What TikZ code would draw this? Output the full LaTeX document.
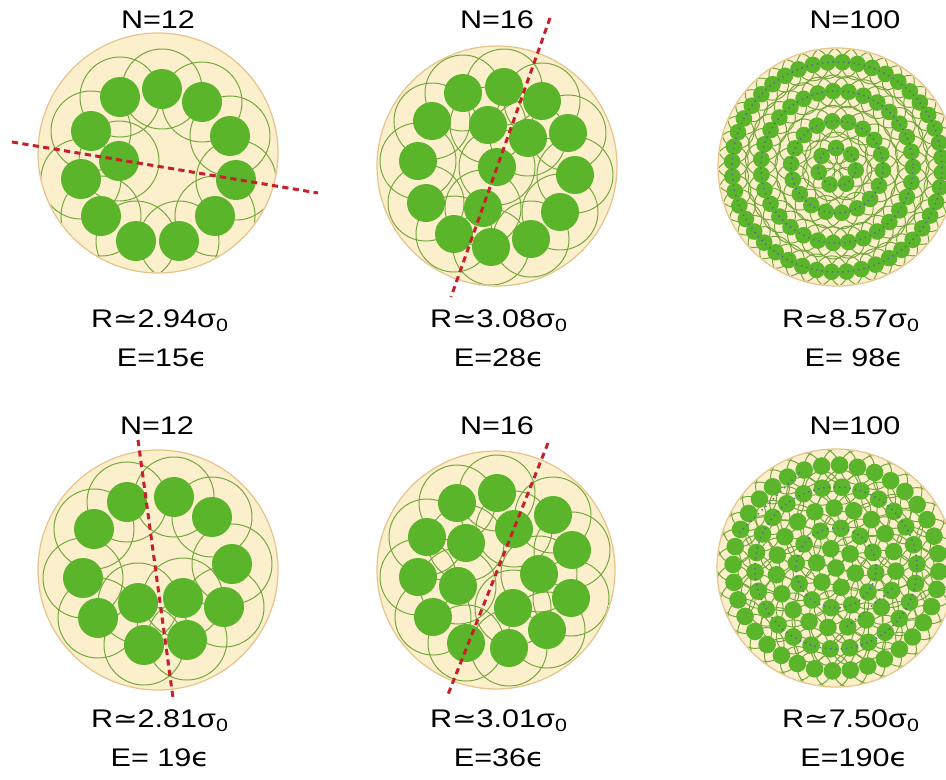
\documentclass[tikz,border=0pt]{standalone}
\usepackage{fontspec}
\setmainfont{Liberation Sans}[FakeStretch=1.2]
\newfontfamily\symbfont{DejaVu Sans}[FakeStretch=1.15]
\definecolor{cbeige}{HTML}{FCEFCB}
\definecolor{ctan}{HTML}{E6C48C}
\definecolor{cgreen}{HTML}{5AB52A}
\definecolor{chalo}{HTML}{72A63C}
\definecolor{cred}{HTML}{C8202A}
\definecolor{cdots}{HTML}{4E6A96}
\tikzset{
  shell/.style={draw=ctan, fill=cbeige, line width=0.7pt},
  bead/.style={fill=cgreen},
  halo/.style={draw=chalo, line width=0.55pt},
  cut/.style={draw=cred, line width=1.7pt, dash pattern=on 3.5pt off 2.5pt},
  bond/.style={draw=cdots, line width=0.8pt, dash pattern=on 0.8pt off 2.2pt},
  lbl/.style={font=\fontsize{14.5}{17}\selectfont, inner sep=0pt},
}
\newcommand{\simsym}{{\symbfont ≃}}
\newcommand{\epssym}{{\symbfont ϵ}}

\begin{document}
\begin{tikzpicture}[x=0.02cm, y=-0.02cm]
  \useasboundingbox (0,0) rectangle (946,779);

  % top left, N=12
  \coordinate (c1) at (158,153);
  \draw[shell] (c1) circle (120);
  \begin{scope}
    \clip (c1) circle (119);
    \foreach \x/\y in {120/97, 162/89, 202/102, 230/136, 236/180, 215/216,
                       179/241, 136/241, 101/216, 81/179, 91/131, 119/161}
      \draw[halo] (\x,\y) circle (40);
  \end{scope}
  \foreach \x/\y in {120/97, 162/89, 202/102, 230/136, 236/180, 215/216,
                     179/241, 136/241, 101/216, 81/179, 91/131, 119/161}
    \fill[bead] (\x,\y) circle (20);
  \coordinate (a1) at (12,142);
  \coordinate (b1) at (318,193);
  \draw[cut] (a1) -- (b1);

  % top middle, N=16
  \coordinate (c2) at (497,166);
  \draw[shell] (c2) circle (120);
  \begin{scope}
    \clip (c2) circle (119);
    \foreach \x/\y in {463/93, 504/87, 542/101, 432/121, 488/125, 528/138, 568/133, 418/161,
                       497/167, 575/175, 426/203, 483/208, 560/212, 454/234, 491/247, 531/239}
      \draw[halo] (\x,\y) circle (38);
  \end{scope}
  \foreach \x/\y in {463/93, 504/87, 542/101, 432/121, 488/125, 528/138, 568/133, 418/161,
                     497/167, 575/175, 426/203, 483/208, 560/212, 454/234, 491/247, 531/239}
    \fill[bead] (\x,\y) circle (19);
  \coordinate (a2) at (550,18);
  \coordinate (b2) at (451,297);
  \draw[cut] (a2) -- (b2);

  % top right, N=100
  \coordinate (c3) at (837,167);
  \draw[shell] (c3) circle (119);
  \begin{scope}[shift={(c3)}]
    \clip (0,0) circle (118);
    \foreach \n/\rr/\o in {7/19/10, 18/46/4, 31/76/0, 44/105/3}
      \foreach \k in {1,...,\n}
        \draw[halo] ({\o+360*\k/\n}:\rr) circle (16);
  \end{scope}
  \begin{scope}[shift={(c3)}]
    \foreach \n/\rr/\o in {7/19/10, 18/46/4, 31/76/0, 44/105/3}
      \foreach \k in {1,...,\n}
        \fill[bead] ({\o+360*\k/\n}:\rr) circle (8.3);
    \foreach \rr in {19, 46, 76, 105}
      \draw[bond] (0,0) circle (\rr);
  \end{scope}

  % bottom left, N=12
  \coordinate (c4) at (158,570);
  \draw[shell] (c4) circle (120);
  \begin{scope}
    \clip (c4) circle (119);
    \foreach \x/\y in {127/502, 174/497, 212/517, 94/529, 232/564, 83/578,
                       138/603, 183/598, 224/607, 98/618, 144/645, 187/640}
      \draw[halo] (\x,\y) circle (40);
  \end{scope}
  \foreach \x/\y in {127/502, 174/497, 212/517, 94/529, 232/564, 83/578,
                     138/603, 183/598, 224/607, 98/618, 144/645, 187/640}
    \fill[bead] (\x,\y) circle (20);
  \coordinate (a4) at (138,440);
  \coordinate (b4) at (173,698);
  \draw[cut] (a4) -- (b4);

  % bottom middle, N=16
  \coordinate (c5) at (496,570);
  \draw[shell] (c5) circle (119);
  \begin{scope}
    \clip (c5) circle (118);
    \foreach \x/\y in {497/493, 457/503, 553/515, 427/537, 466/543, 514/529, 572/550, 418/577,
                       458/586, 539/574, 571/598, 433/617, 513/608, 547/630, 466/643, 509/648}
      \draw[halo] (\x,\y) circle (38);
  \end{scope}
  \foreach \x/\y in {497/493, 457/503, 553/515, 427/537, 466/543, 514/529, 572/550, 418/577,
                     458/586, 539/574, 571/598, 433/617, 513/608, 547/630, 466/643, 509/648}
    \fill[bead] (\x,\y) circle (19);
  \coordinate (a5) at (548,443);
  \coordinate (b5) at (447,697);
  \draw[cut] (a5) -- (b5);

  % bottom right, N=100
  \coordinate (c6) at (836,568);
  \draw[shell] (c6) circle (119);
  \begin{scope}[shift={(c6)}]
    \clip (0,0) circle (118);
    \foreach \n/\rr/\o in {1/0/0, 6/20/15, 12/40/7, 19/60/3, 26/81/11, 36/103/2}
      \foreach \k in {1,...,\n}
        \draw[halo] ({\o+360*\k/\n}:\rr) circle (17);
  \end{scope}
  \begin{scope}[shift={(c6)}]
    \foreach \n/\rr/\o in {1/0/0, 6/20/15, 12/40/7, 19/60/3, 26/81/11, 36/103/2}
      \foreach \k in {1,...,\n}
        \fill[bead] ({\o+360*\k/\n}:\rr) circle (8.8);
    \draw[bond] (0,0) circle (40);
    \draw[bond] (0,0) circle (81);
    \draw[bond] (20:60) -- (80:60);
    \draw[bond] (200:103) -- (250:103);
  \end{scope}

  % labels
  \node[lbl] (n1) at (158,20) {N=12};
  \node[lbl] (n2) at (497,20) {N=16};
  \node[lbl] (n3) at (855,20) {N=100};
  \node[lbl] (r1) at (160,321) {R\simsym2.94σ\textsubscript{0}};
  \node[lbl] (r2) at (499,321) {R\simsym3.08σ\textsubscript{0}};
  \node[lbl] (r3) at (851,321) {R\simsym8.57σ\textsubscript{0}};
  \node[lbl] (e1) at (162,358) {E=15\epssym};
  \node[lbl] (e2) at (499,358) {E=28\epssym};
  \node[lbl] (e3) at (854,358) {E= 98\epssym};
  \node[lbl] (n4) at (157,426) {N=12};
  \node[lbl] (n5) at (497,426) {N=16};
  \node[lbl] (n6) at (855,426) {N=100};
  \node[lbl] (r4) at (160,721) {R\simsym2.81σ\textsubscript{0}};
  \node[lbl] (r5) at (499,721) {R\simsym3.01σ\textsubscript{0}};
  \node[lbl] (r6) at (851,721) {R\simsym7.50σ\textsubscript{0}};
  \node[lbl] (e4) at (160,758) {E= 19\epssym};
  \node[lbl] (e5) at (499,758) {E=36\epssym};
  \node[lbl] (e6) at (854,758) {E=190\epssym};
\end{tikzpicture}
\end{document}
